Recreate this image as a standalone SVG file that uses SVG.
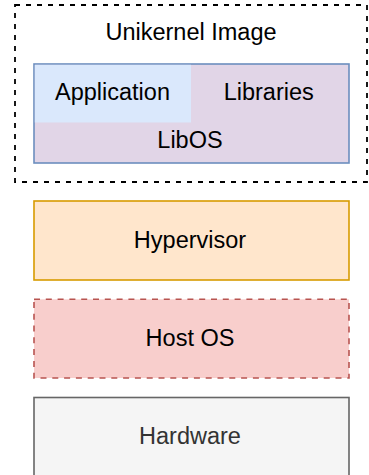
<svg xmlns="http://www.w3.org/2000/svg" width="369" height="475" viewBox="0 0 369 475">
  <style>
    text { font-family: "Liberation Sans", Arial, Helvetica, sans-serif; font-size: 23.5px; text-anchor: middle; fill: #000000; }
    .image { fill: none; stroke: #000000; stroke-width: 1.8; stroke-dasharray: 5 6; }
    .libos { fill: #e1d5e7; stroke: #6c8ebf; stroke-width: 1.6; }
    .app { fill: #dae8fc; stroke: none; }
    .hyper { fill: #ffe6cc; stroke: #d79b00; stroke-width: 1.6; }
    .host { fill: #f8cecc; stroke: #b85450; stroke-width: 1.6; stroke-dasharray: 6 5.8; }
    .hw { fill: #f5f5f5; stroke: #666666; stroke-width: 1.6; }
    .hw-label { fill: #333333; }
  </style>

  <!-- Unikernel image container -->
  <g id="unikernel-image">
    <rect class="image" x="15" y="5" width="352" height="177"/>
    <text x="191" y="39.5">Unikernel Image</text>
  </g>

  <!-- LibOS block with application and libraries -->
  <g id="libos">
    <rect class="libos" x="34" y="64" width="315" height="99"/>
    <text x="190" y="148">LibOS</text>
  </g>
  <g id="application">
    <rect class="app" x="34.8" y="64.8" width="156.2" height="57.7"/>
    <text x="112.5" y="99.5">Application</text>
  </g>
  <g id="libraries">
    <text x="268.7" y="100">Libraries</text>
  </g>

  <!-- Lower layers -->
  <g id="hypervisor">
    <rect class="hyper" x="34" y="201" width="315" height="79"/>
    <text x="190" y="248.3">Hypervisor</text>
  </g>
  <g id="host-os">
    <rect class="host" x="34" y="299.3" width="315" height="78.7"/>
    <text x="190" y="346">Host OS</text>
  </g>
  <g id="hardware">
    <rect class="hw" x="34" y="397.5" width="315" height="80"/>
    <text class="hw-label" x="190" y="444">Hardware</text>
  </g>

  <g id="connectors"/>
</svg>
